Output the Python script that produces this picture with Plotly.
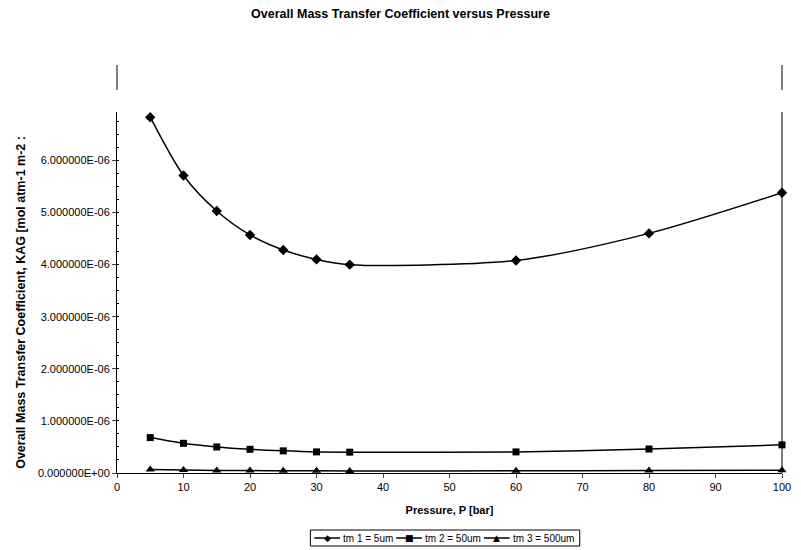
import plotly.graph_objects as go

pressure = [5, 10, 15, 20, 25, 30, 35, 60, 80, 100]
kag_tm1 = [6.83e-6, 5.71e-6, 5.03e-6, 4.57e-6, 4.28e-6, 4.10e-6, 4.00e-6, 4.08e-6, 4.60e-6, 5.38e-6]
kag_tm2 = [0.68e-6, 0.57e-6, 0.50e-6, 0.455e-6, 0.425e-6, 0.405e-6, 0.40e-6, 0.405e-6, 0.46e-6, 0.54e-6]
kag_tm3 = [0.068e-6, 0.057e-6, 0.050e-6, 0.046e-6, 0.043e-6, 0.041e-6, 0.040e-6, 0.041e-6, 0.046e-6, 0.054e-6]
series_names = ["tm 1 = 5um", "tm 2 = 50um", "tm 3 = 500um"]
series_glyphs = ["◆", "■", "▲"]
y_ticks = [0, 1e-6, 2e-6, 3e-6, 4e-6, 5e-6, 6e-6]
y_tick_labels = ["0.000000E+00", "1.000000E-06", "2.000000E-06", "3.000000E-06",
                 "4.000000E-06", "5.000000E-06", "6.000000E-06"]
x_ticks = [0, 10, 20, 30, 40, 50, 60, 70, 80, 90, 100]

FONT = "Liberation Sans, Arial, sans-serif"
W, H = 801, 550
L, R, T, B = 117, 10, 112, 77
PW, PH = W - L - R, H - T - B


def px(x):
    return (x - L) / PW


def py(y):
    return (H - B - y) / PH


fig = go.Figure()
for vals, name, sym, size in [(kag_tm1, series_names[0], "diamond", 8),
                              (kag_tm2, series_names[1], "square", 7),
                              (kag_tm3, series_names[2], "triangle-up", 8)]:
    fig.add_trace(go.Scatter(
        x=pressure, y=vals, name=name, mode="lines+markers",
        line=dict(color="black", width=1.5, shape="spline", smoothing=0.8),
        marker=dict(symbol=sym, size=size, color="black"),
        showlegend=False, cliponaxis=False,
    ))

fig.update_layout(
    width=W, height=H,
    margin=dict(l=L, r=R, t=T, b=B),
    paper_bgcolor="white", plot_bgcolor="white",
    font=dict(family=FONT, color="black", size=11),
    title=dict(text="<b>Overall Mass Transfer Coefficient versus Pressure</b>",
               x=0.5, xanchor="center", y=1 - 14 / H, yanchor="middle",
               font=dict(size=12.5, family=FONT)),
    xaxis=dict(range=[0, 100], tickvals=x_ticks, ticks="outside", ticklen=4,
               showline=True, linecolor="black", linewidth=1, showgrid=False,
               zeroline=False, tickfont=dict(size=11),
               title=dict(text="<b>Pressure, P [bar]</b>", font=dict(size=11), standoff=14)),
    yaxis=dict(range=[0, 6.93e-6], tickvals=y_ticks, ticktext=y_tick_labels,
               ticks="outside", ticklen=4, showline=True, linecolor="black", linewidth=1,
               showgrid=False, zeroline=False, tickfont=dict(size=11),
               minor=dict(ticks="inside", ticklen=2, dtick=0.25e-6, tickcolor="black")),
)

fig.add_annotation(
    text="<b>Overall Mass Transfer Coefficient, KAG [mol atm-1 m-2 :</b>",
    xref="paper", yref="paper", x=px(19), y=py(471),
    xanchor="center", yanchor="bottom", textangle=-90, showarrow=False,
    font=dict(size=12.5, family=FONT),
)

# right plot-area border and scan fragments of the border above
fig.add_shape(type="line", xref="paper", yref="paper", x0=1, x1=1, y0=0, y1=1,
              line=dict(color="black", width=1))
for xp in [0, 1]:
    fig.add_shape(type="line", xref="paper", yref="paper", x0=xp, x1=xp,
                  y0=py(65), y1=py(90), line=dict(color="black", width=1))

# legend (drawn compactly, Excel style)
leg_left, leg_right, leg_top, leg_bot = 313, 586, 530, 546
leg_mid = (leg_top + leg_bot) / 2
fig.add_shape(type="rect", xref="paper", yref="paper",
              x0=px(leg_left), x1=px(leg_right), y0=py(leg_bot), y1=py(leg_top),
              line=dict(color="black", width=1), fillcolor="white", layer="above")
item_starts = [317, 400, 489]
for start, name, glyph in zip(item_starts, series_names, series_glyphs):
    fig.add_shape(type="line", xref="paper", yref="paper",
                  x0=px(start), x1=px(start + 26), y0=py(leg_mid), y1=py(leg_mid),
                  line=dict(color="black", width=1.5), layer="above")
    fig.add_annotation(text=glyph, xref="paper", yref="paper",
                       x=px(start + 13), y=py(leg_mid), xanchor="center", yanchor="middle",
                       showarrow=False, font=dict(size=9, family="DejaVu Sans", color="black"))
    fig.add_annotation(text=name, xref="paper", yref="paper",
                       x=px(start + 27), y=py(leg_mid), xanchor="left", yanchor="middle",
                       showarrow=False, font=dict(size=10, family=FONT, color="black"))

fig.write_html("out.html")
